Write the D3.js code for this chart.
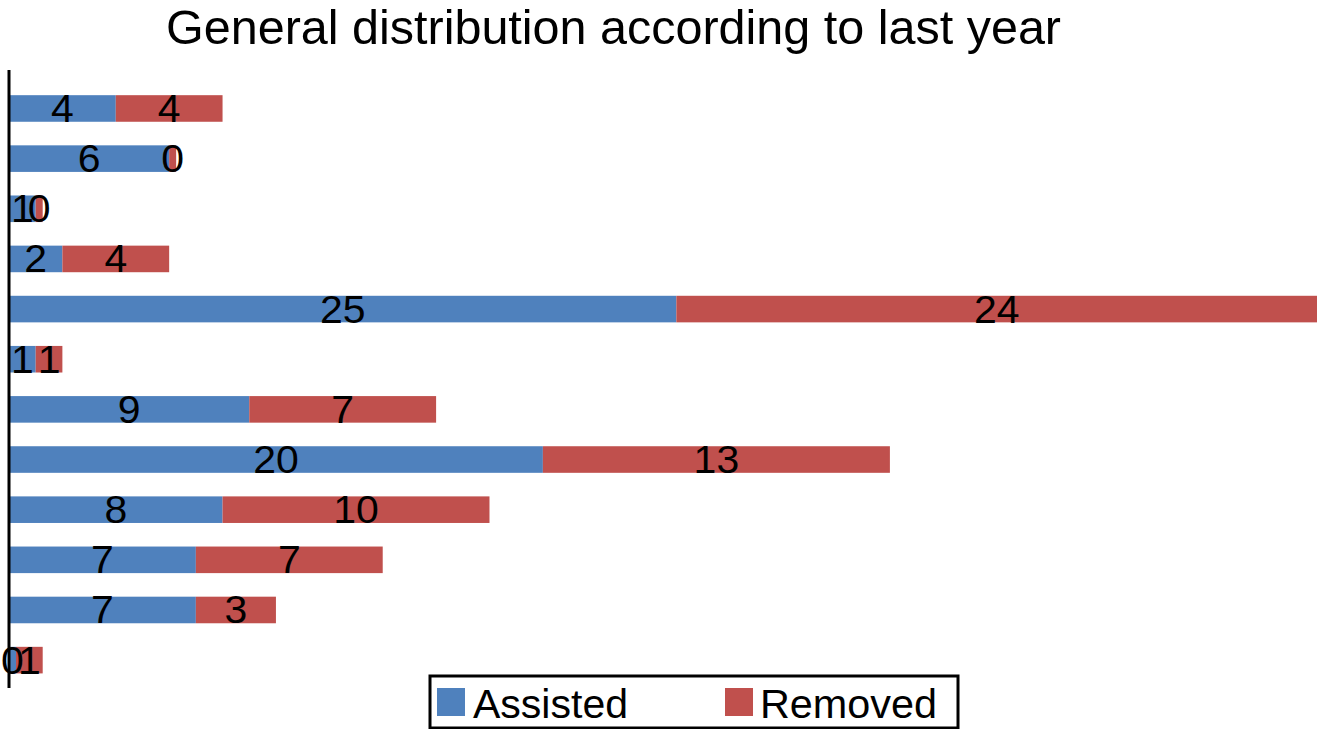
<!DOCTYPE html>
<html>
<head>
<meta charset="utf-8">
<script src="https://cdn.jsdelivr.net/npm/d3@7/dist/d3.min.js"></script>
<style>
html,body{margin:0;padding:0;background:#fff;}
text{font-family:"Liberation Sans",Arial,Helvetica,sans-serif;fill:#000;}
</style>
</head>
<body>
<svg id="chart" width="1317" height="729"></svg>
<script>
const categories = ["C1","C2","C3","C4","C5","C6","C7","C8","C9","C10","C11","C12"];
const assisted = [4, 6, 1, 2, 25, 1, 9, 20, 8, 7, 7, 0];
const removed  = [4, 0, 0, 4, 24, 1, 7, 13, 10, 7, 3, 1];
const seriesNames = ["Assisted", "Removed"];
const seriesColors = ["#4F81BD", "#C0504D"];
const title = "General distribution according to last year";

const W = 1317, H = 729;
const svg = d3.select("#chart");

const x = d3.scaleLinear().domain([0, 49]).range([9, 1317]);
const y = d3.scaleBand().domain(categories).range([83.4, 685.2]).paddingInner(0.47).paddingOuter(0.235);

const rows = categories.map((c, i) => ({c, vals: [assisted[i], removed[i]]}));
const minW = 7;
const labelScale = 1.05;

const g = svg.append("g");
rows.forEach(r => {
  let acc = 0, extra = 0;
  r.vals.forEach((v, k) => {
    const x0 = x(acc) + extra;
    let w = x(acc + v) - x(acc);
    if (w < minW) { extra += minW - w; w = minW; }
    g.append("rect")
      .attr("x", x0).attr("y", y(r.c))
      .attr("width", w).attr("height", y.bandwidth())
      .attr("fill", seriesColors[k]);
    r["lx" + k] = x0 + w / 2;
    acc += v;
  });
});
// labels
rows.forEach(r => {
  r.vals.forEach((v, k) => {
    g.append("text")
      .attr("transform", `translate(${r["lx" + k]},${y(r.c) + y.bandwidth() / 2 + 13.5}) scale(${labelScale},1)`)
      .attr("text-anchor", "middle")
      .attr("font-size", 39)
      .text(v);
  });
});

// axis line
svg.append("line").attr("x1", 9).attr("x2", 9).attr("y1", 70).attr("y2", 688)
  .attr("stroke", "#000").attr("stroke-width", 3);

// title
svg.append("text").attr("x", 166).attr("y", 44)
  .attr("font-size", 48)
  .attr("textLength", 895).attr("lengthAdjust", "spacingAndGlyphs")
  .text(title);

// legend
const lg = svg.append("g");
lg.append("rect").attr("x", 430).attr("y", 676).attr("width", 528).attr("height", 52)
  .attr("fill", "#fff").attr("stroke", "#000").attr("stroke-width", 3);
const legX = [437, 725], legTextX = [473, 760], legTL = [155, 177];
seriesNames.forEach((n, k) => {
  lg.append("rect").attr("x", legX[k]).attr("y", 688).attr("width", 28).attr("height", 28)
    .attr("fill", seriesColors[k]);
  lg.append("text").attr("x", legTextX[k]).attr("y", 718)
    .attr("font-size", 40)
    .attr("textLength", legTL[k]).attr("lengthAdjust", "spacingAndGlyphs")
    .text(n);
});
</script>
</body>
</html>
